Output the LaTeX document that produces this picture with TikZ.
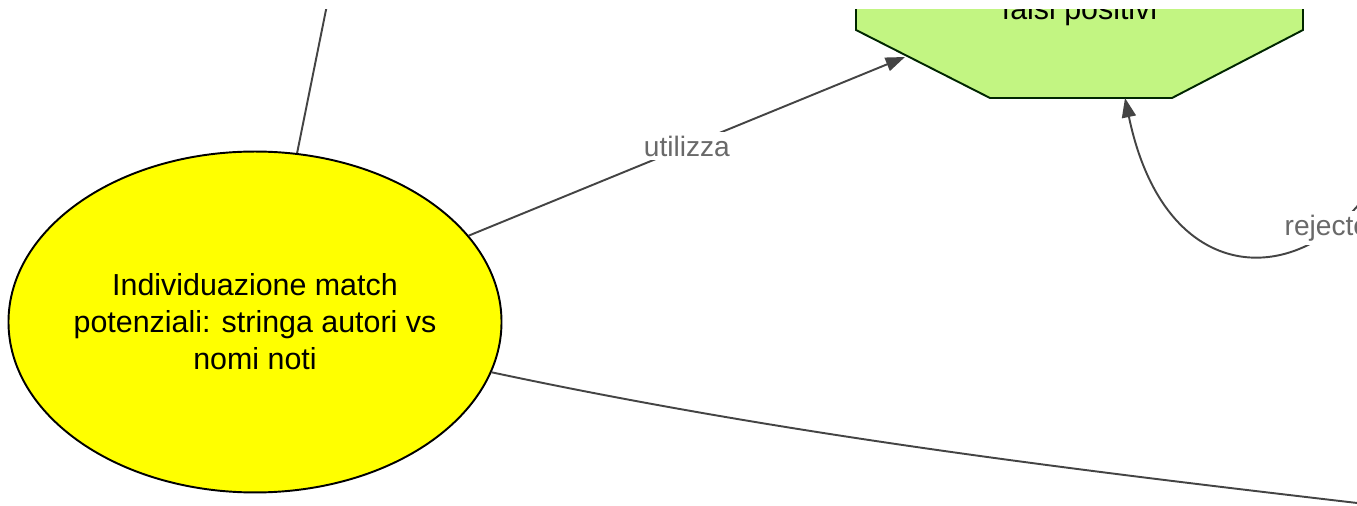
\documentclass[tikz,border=0pt]{standalone}
\usepackage{fontspec}
\setmainfont{Liberation Sans}
\usetikzlibrary{arrows.meta, shapes.geometric}
\definecolor{matchyellow}{RGB}{255,255,0}
\definecolor{fpgreen}{RGB}{194,245,130}
\definecolor{linkgray}{RGB}{68,68,68}
\begin{document}
\begin{tikzpicture}[x=0.02cm, y=-0.02cm,
        concept/.style={draw=black, line width=1.1pt, align=center, font=\fontsize{17.3}{21}\selectfont},
        link/.style={draw=linkgray, line width=1.1pt},
        linkarr/.style={link, -{Triangle[length=11pt, width=8pt]}},
        linklabel/.style={fill=white, inner sep=2pt, text=linkgray!80, font=\fontsize{16}{19}\selectfont}]
            \useasboundingbox (0,0) rectangle (1357,506);
            \clip (0,10) rectangle (1357,506);
            % concepts
            \node[concept, ellipse, inner xsep=-4pt, fill=matchyellow, minimum width=9.72cm, minimum height=6.82cm] (match) at (255,322)
                {Individuazione match\\ potenziali: stringa autori vs\\ nomi noti};
            \filldraw[fill=fpgreen, draw=black!85!green, line width=1.1pt]
                (990,-70) -- (1172,-70) -- (1303,-2) -- (1303,30) -- (1172,98) -- (990,98) -- (856,30) -- (856,-2) -- cycle;
            \node[concept, draw=none] (fp) at (1079.5,12) {falsi positivi};
            % points on the octagon and free ends outside the frame
            \coordinate (fpUtil) at (905,57);
            \coordinate (fpRej) at (1125,98);
            \coordinate (topEnd) at (330,-10);
            \coordinate (rejSrc) at (1370,190);
            \coordinate (lowEnd) at (1400,508);
            % links
            \draw[link] (match.76) -- (topEnd);
            \draw[linkarr] (match.22) -- node[linklabel]{utilizza} (fpUtil);
            \draw[linkarr] (rejSrc) .. controls (1300,290) and (1165,290) .. node[linklabel, pos=0.15]{rejected} (fpRej);
            \draw[link] (match.-12) .. controls (800,438) and (1100,473) .. (lowEnd);
        \end{tikzpicture}
\end{document}
